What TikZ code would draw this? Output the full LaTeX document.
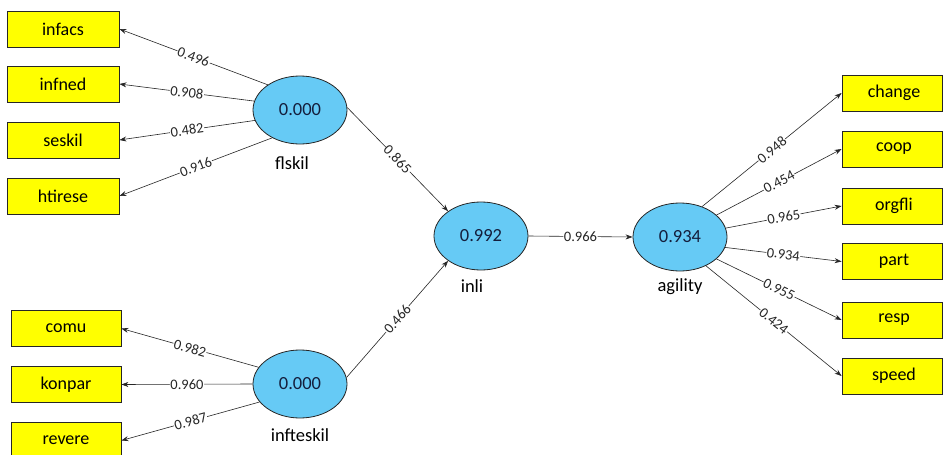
\documentclass[tikz,border=0pt]{standalone}
\usepackage{fontspec}
\setmainfont{Carlito}
\usetikzlibrary{shapes.geometric,arrows.meta}
\definecolor{indyellow}{RGB}{255,255,0}
\definecolor{latblue}{RGB}{102,202,245}
\definecolor{numink}{RGB}{20,30,60}
\tikzset{
  indbox/.style={draw=black!85, line width=0.8pt, fill=indyellow, minimum height=36pt, inner sep=0pt, font=\fontsize{18}{18}\selectfont},
  latent/.style={ellipse, draw=black!85, line width=0.8pt, fill=latblue, minimum width=94pt, minimum height=68pt, inner sep=0pt, font=\fontsize{18.5}{18.5}\selectfont\color{numink}},
  latname/.style={font=\fontsize{18.5}{18.5}\selectfont, inner sep=0pt},
  conn/.style={draw=black!85, line width=0.6pt, -{Stealth[length=7pt,width=5pt]}},
  wt/.style={midway, sloped, fill=white, inner sep=0.6pt, font=\fontsize{14.5}{14.5}\selectfont, text=black!85}
}
\begin{document}
\begin{tikzpicture}[x=1pt,y=-1pt]
\useasboundingbox[fill=white] (0,0) rectangle (943,455);
% indicators left
\node[indbox, minimum width=112pt] (infacs) at (63,29) {infacs};
\node[indbox, minimum width=112pt] (infned) at (63,84) {infned};
\node[indbox, minimum width=112pt] (seskil) at (63,140) {seskil};
\node[indbox, minimum width=112pt] (htirese) at (63,196) {htirese};
\node[indbox, minimum width=110pt] (comu) at (66,328.5) {comu};
\node[indbox, minimum width=110pt] (konpar) at (66,384.5) {konpar};
\node[indbox, minimum width=110pt] (revere) at (66,440.5) {revere};
% indicators right
\node[indbox, minimum width=100pt] (change) at (892,93) {\hspace*{4pt}change};
\node[indbox, minimum width=100pt] (coop) at (892,149) {\hspace*{4pt}coop};
\node[indbox, minimum width=100pt] (orgfli) at (892,206) {\hspace*{4pt}orgfli};
\node[indbox, minimum width=100pt] (part) at (892,261.5) {\hspace*{4pt}part};
\node[indbox, minimum width=100pt] (resp) at (892,320) {\hspace*{4pt}resp};
\node[indbox, minimum width=100pt] (speed) at (892,376) {\hspace*{4pt}speed};
% latent variables
\node[latent] (flskil) at (300,110) {0.000};
\node[latent] (infteskil) at (300,384) {0.000};
\node[latent] (inli) at (481,236) {0.992};
\node[latent] (agility) at (680,237) {0.934};
\node[latname] (flskilL) at (292,163) {flskil};
\node[latname] (infteskilL) at (300,435) {infteskil};
\node[latname] (inliL) at (472,286) {inli};
\node[latname] (agilityL) at (680,287) {agility};
% outer loadings left
\draw[conn] (flskil.142) -- node[wt] {0.496} (infacs.east);
\draw[conn] (flskil.169) -- node[wt] {0.908} (infned.east);
\draw[conn] (flskil.193) -- node[wt] {0.482} (seskil.east);
\draw[conn] (flskil.225) -- node[wt] {0.916} (htirese.east);
\draw[conn] (infteskil.158) -- node[wt] {0.982} (comu.east);
\draw[conn] (infteskil.180) -- node[wt] {0.960} (konpar.east);
\draw[conn] (infteskil.204) -- node[wt] {0.987} (revere.east);
% inner paths
\draw[conn] (flskil.3) -- node[wt] {0.865} (inli.143);
\draw[conn] (infteskil.8) -- node[wt] {0.466} (inli.217);
\draw[conn] (inli.east) -- node[wt] {0.966} (agility.west);
% outer loadings right
\draw[conn] (agility.54) -- node[wt] {0.948} (change.west);
\draw[conn] (agility.31) -- node[wt] {0.454} (coop.west);
\draw[conn] (agility.11) -- node[wt] {0.965} (orgfli.west);
\draw[conn] (agility.-13) -- node[wt] {0.934} (part.west);
\draw[conn] (agility.-31) -- node[wt] {0.955} (resp.west);
\draw[conn] (agility.-48) -- node[wt] {0.424} (speed.west);
\end{tikzpicture}
\end{document}
